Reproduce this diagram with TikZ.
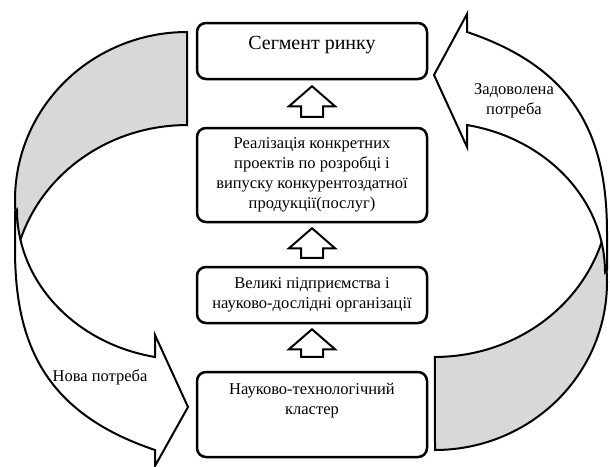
\documentclass[tikz,border=0pt]{standalone}
\usepackage{fontspec}
\setmainfont{Liberation Serif}
\usetikzlibrary{calc}
\definecolor{shadegray}{RGB}{216,216,216}
\tikzset{
  box/.style={draw, line width=2.5pt, rounded corners=9pt, minimum width=230pt, inner sep=0pt, align=center, font=\fontsize{16.5}{20}\selectfont},
  txt/.style={inner sep=0pt, align=center, font=\fontsize{16.5}{20}\selectfont},
  bigtxt/.style={txt, font=\fontsize{20}{24}\selectfont},
  uparr/.style={draw, line width=2pt, fill=white, line join=miter},
  band/.style={draw, line width=2pt, line join=miter},
  shadeband/.style={band, fill=shadegray},
  whiteband/.style={band, fill=white}
}
\newcommand\blockup[4]{%
  \draw[uparr] let \p1=(#1.north), \p2=(#2.south) in
    (\x1-11pt,\y1+#3) -- (\x1-11pt,\y2-#4-20pt) -- (\x1-23pt,\y2-#4-20pt) --
    (\x1,\y2-#4) -- (\x1+23pt,\y2-#4-20pt) -- (\x1+11pt,\y2-#4-20pt) --
    (\x1+11pt,\y1+#3) -- cycle;}
\begin{document}
\begin{tikzpicture}[x=1pt,y=-1pt]
\useasboundingbox (0,0) rectangle (610,466);

% left curved arrow
\draw[shadeband] (187,32) arc[start angle=270, end angle=170, x radius=172, y radius=168]
  -- (20,241) arc[start angle=197.3, end angle=270, x radius=175, y radius=165] -- cycle;
\draw[whiteband] (15,212) -- (15,249) .. controls (15,344) and (45,413) .. (155,450)
  -- (155,466) -- (188,407) -- (155,335) -- (155,357)
  arc[start angle=100.85, end angle=180, x radius=170, y radius=150] -- cycle;

% right curved arrow
\draw[shadeband] (435,450) arc[start angle=90, end angle=-10, x radius=172, y radius=168]
  -- (602,241) arc[start angle=17.3, end angle=90, x radius=175, y radius=165] -- cycle;
\draw[whiteband] (607,270) -- (607,233) .. controls (607,138) and (577,69) .. (467,32)
  -- (467,14) -- (434,75) -- (467,147) -- (467,125)
  arc[start angle=-79.15, end angle=0, x radius=170, y radius=150] -- cycle;

% boxes
\node[box, minimum height=56pt] (b1) at (312,51) {};
\node[bigtxt, anchor=base] (t1) at (312,49) {Сегмент ринку};
\node[box, minimum height=94pt] (b2) at (312,175) {Реалізація конкретних\\проектів по розробці і\\випуску конкурентоздатної\\продукції(послуг)};
\node[box, minimum height=56pt] (b3) at (312,295) {Великі підприємства і\\науково-дослідні організації};
\node[box, minimum height=85pt] (b4) at (312,414.5) {};
\node[txt] (t4) at (312,401) {Науково-технологічний\\кластер};

% block arrows
\blockup{b2}{b1}{10pt}{6pt}
\blockup{b3}{b2}{8pt}{5pt}
\blockup{b4}{b3}{14pt}{5pt}

% labels
\node[txt] (l1) at (100,377) {Нова потреба};
\node[txt] (l2) at (514,101) {Задоволена\\потреба};
\end{tikzpicture}
\end{document}
